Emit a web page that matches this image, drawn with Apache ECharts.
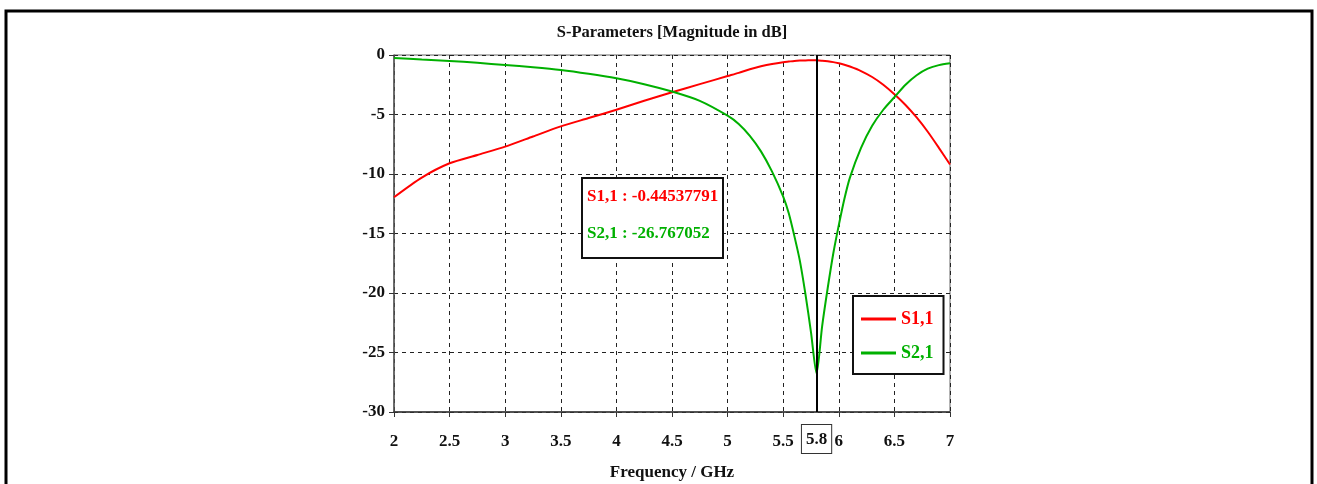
<!DOCTYPE html>
<html>
<head>
<meta charset="utf-8">
<script src="https://cdn.jsdelivr.net/npm/echarts@6/dist/echarts.min.js"></script>
<style>
html,body{margin:0;padding:0;background:#fff;}
#c{width:1317px;height:484px;}
</style>
</head>
<body>
<div id="c"></div>
<script>
var freq = [2, 2.25, 2.5, 2.75, 3, 3.25, 3.5, 3.75, 4, 4.25, 4.5, 4.75, 5, 5.1, 5.2, 5.3, 5.4, 5.5, 5.55, 5.6, 5.65, 5.7, 5.75, 5.8, 5.85, 5.9, 5.95, 6, 6.05, 6.1, 6.2, 6.3, 6.4, 6.5, 6.6, 6.7, 6.8, 6.9, 7];
var s11 = [-11.95, -10.3, -9.1, -8.4, -7.7, -6.85, -6.0, -5.3, -4.6, -3.85, -3.13, -2.45, -1.77, -1.5, -1.2, -0.95, -0.75, -0.6, -0.55, -0.5, -0.47, -0.455, -0.448, -0.44537791, -0.48, -0.53, -0.6, -0.7, -0.82, -0.97, -1.35, -1.85, -2.5, -3.3, -4.2, -5.25, -6.45, -7.8, -9.2];
var s21 = [-0.25, -0.38, -0.5, -0.66, -0.84, -1.03, -1.26, -1.58, -1.96, -2.45, -3.07, -3.85, -5.1, -5.8, -6.8, -8.1, -9.8, -11.9, -13.3, -15.2, -17.3, -20.1, -23.3, -26.767052, -22.8, -19.6, -16.7, -14.3, -12.1, -10.3, -7.8, -5.95, -4.6, -3.55, -2.5, -1.7, -1.15, -0.85, -0.7];
var seriesNames = ['S1,1', 'S2,1'];
var markerFreq = 5.8;
var xTicks = [2, 2.5, 3, 3.5, 4, 4.5, 5, 5.5, 6, 6.5, 7];
var yTicks = [-30, -25, -20, -15, -10, -5, 0];

var RED = '#ff0000', GREEN = '#00b000';
var FONT = "'Liberation Serif','Times New Roman',serif";

function pairs(ys){ return freq.map(function(f,i){ return [f, ys[i]]; }); }
var mi = freq.indexOf(markerFreq);

var chart = echarts.init(document.getElementById('c'));
chart.setOption({
  animation: false,
  backgroundColor: '#fff',
  title: {
    text: 'S-Parameters [Magnitude in dB]',
    left: 667, top: 19, textAlign: 'center',
    textStyle: {fontFamily: FONT, fontWeight: 'bold', fontSize: 16.5, color: '#111'}
  },
  grid: {left: 394, width: 556, top: 55, height: 357, outerBoundsMode: 'none', containLabel: false,
    show: true, borderColor: '#666', borderWidth: 1, backgroundColor: 'transparent'},
  xAxis: {
    type: 'value', min: 2, max: 7, interval: 0.5,
    name: 'Frequency / GHz', nameLocation: 'middle', nameGap: 52,
    nameTextStyle: {fontFamily: FONT, fontWeight: 'bold', fontSize: 17, color: '#111'},
    axisLine: {onZero: false, lineStyle: {color: '#333', width: 1.5}},
    axisTick: {show: true, length: 5, inside: false, lineStyle: {color: '#333'}},
    axisLabel: {fontFamily: FONT, fontWeight: 'bold', fontSize: 17, color: '#111', margin: 21,
      formatter: function(v){ return xTicks.indexOf(v) >= 0 ? String(v) : ''; }},
    splitLine: {show: true, lineStyle: {color: '#222', type: [4, 4], width: 1}}
  },
  yAxis: {
    type: 'value', min: -30, max: 0, interval: 5,
    axisLine: {show: true, lineStyle: {color: '#555', width: 1.5}},
    axisTick: {show: true, length: 5, lineStyle: {color: '#333'}},
    axisLabel: {fontFamily: FONT, fontWeight: 'bold', fontSize: 17, color: '#111', margin: 9,
      formatter: function(v){ return yTicks.indexOf(v) >= 0 ? String(v) : ''; }},
    splitLine: {show: true, lineStyle: {color: '#222', type: [4, 4], width: 1}}
  },
  legend: {
    orient: 'vertical', left: 853, top: 296,
    borderColor: '#111', borderWidth: 2, padding: [14, 10, 12, 8], backgroundColor: '#fff',
    itemGap: 16, itemWidth: 35, itemHeight: 3, icon: 'rect',
    textStyle: {fontFamily: FONT, fontWeight: 'bold', fontSize: 18},
    data: [
      {name: seriesNames[0], textStyle: {color: RED}},
      {name: seriesNames[1], textStyle: {color: GREEN}}
    ]
  },
  graphic: [
    {type: 'polyline', shape: {points: [[6, 484], [6, 11], [1312, 11], [1312, 484]]},
     style: {stroke: '#000', lineWidth: 3, fill: null}, silent: true},
    {type: 'rect', x: 582, y: 178, shape: {x: 0, y: 0, width: 141, height: 80},
     style: {fill: '#fff', stroke: '#111', lineWidth: 2}, z: 10},
    {type: 'text', x: 587, y: 197, z: 11,
     style: {text: seriesNames[0] + ' : ' + s11[mi], fill: RED, font: 'bold 17px ' + FONT, textVerticalAlign: 'middle'}},
    {type: 'text', x: 587, y: 234, z: 11,
     style: {text: seriesNames[1] + ' : ' + s21[mi], fill: GREEN, font: 'bold 17px ' + FONT, textVerticalAlign: 'middle'}}
  ],
  series: [
    {name: seriesNames[0], type: 'line', data: pairs(s11), showSymbol: false, smooth: 0.25,
     lineStyle: {color: RED, width: 2}, itemStyle: {color: RED},
     markLine: {silent: true, symbol: 'none',
       lineStyle: {color: '#000', width: 2, type: 'solid'},
       label: {show: true, position: 'start', formatter: String(markerFreq), distance: 13,
         fontFamily: FONT, fontWeight: 'bold', fontSize: 17, color: '#111',
         borderColor: '#333', borderWidth: 1, padding: [6, 4, 5, 4], backgroundColor: '#fff'},
       data: [{xAxis: markerFreq}]}
    },
    {name: seriesNames[1], type: 'line', data: pairs(s21), showSymbol: false, smooth: 0.25,
     lineStyle: {color: GREEN, width: 2}, itemStyle: {color: GREEN}}
  ]
});
</script>
</body>
</html>
